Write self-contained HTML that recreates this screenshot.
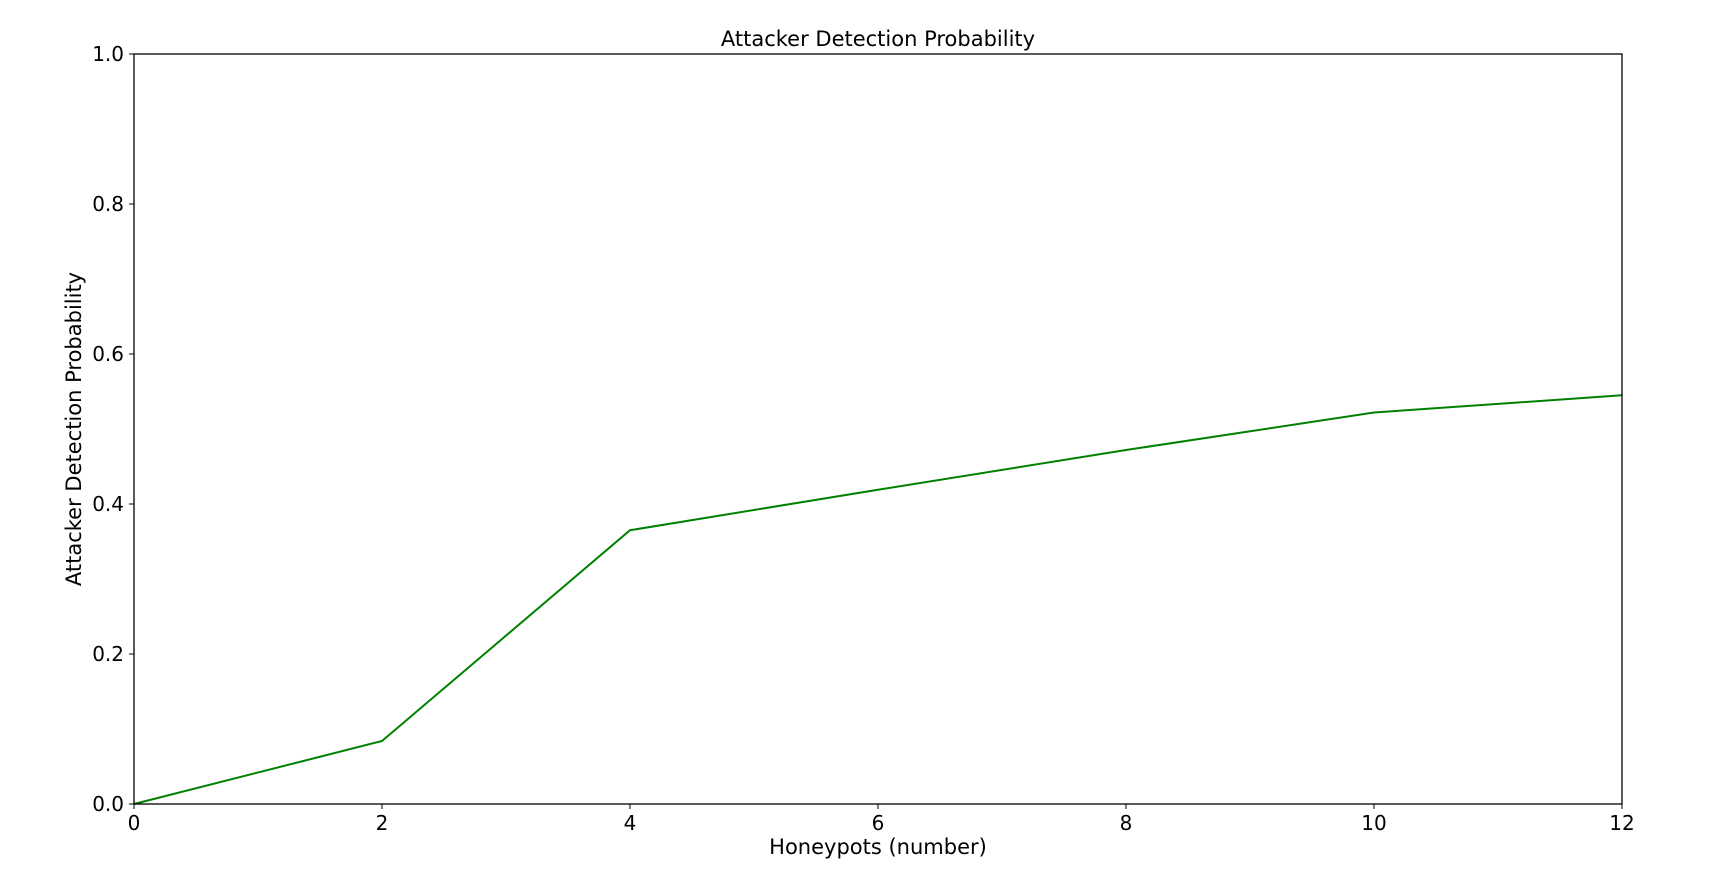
<!DOCTYPE html>
<html><head><meta charset="utf-8"><style>
html,body{margin:0;padding:0;background:#fff;}
svg{display:block;font-family:"DejaVu Sans","Liberation Sans",sans-serif;}
</style></head><body>
<svg id="chart" width="1722" height="878">
<rect width="1722" height="878" fill="#fff"/>
<g id="ticks"></g>
<polyline id="line" fill="none" stroke="#008000" stroke-width="2"/>
<rect x="134" y="54" width="1488" height="750" fill="none" stroke="#000" stroke-width="1.3"/>
<text x="878" y="46" font-size="21" text-anchor="middle">Attacker Detection Probability</text>
<text x="878" y="854" font-size="21" text-anchor="middle">Honeypots (number)</text>
<text transform="translate(81,429) rotate(-90)" font-size="21" text-anchor="middle">Attacker Detection Probability</text>
</svg>
<script>
const xValues=[0,2,4,6,8,10,12];
const yValues=[0,0.084,0.365,0.419,0.472,0.522,0.545];
const xTicks=[0,2,4,6,8,10,12];
const yTicks=[0,0.2,0.4,0.6,0.8,1.0];
const L=134,R=1622,T=54,B=804;
const xs=v=>L+(v-0)/(12-0)*(R-L);
const ys=v=>B-(v-0)/(1-0)*(B-T);
const NS="http://www.w3.org/2000/svg";
const g=document.getElementById('ticks');
xTicks.forEach(t=>{
 const l=document.createElementNS(NS,'line');
 l.setAttribute('x1',xs(t));l.setAttribute('x2',xs(t));l.setAttribute('y1',B);l.setAttribute('y2',B+5);l.setAttribute('stroke','#000');
 
 
 g.appendChild(l);
 const tx=document.createElementNS(NS,'text');
 tx.setAttribute('x',xs(t));tx.setAttribute('y',B+26);tx.setAttribute('font-size','20');tx.setAttribute('text-anchor','middle');
 tx.textContent=String(t);
 
 
 g.appendChild(tx);
});
yTicks.forEach(t=>{
 const l=document.createElementNS(NS,'line');
 l.setAttribute('x1',L-5);l.setAttribute('x2',L);l.setAttribute('y1',ys(t));l.setAttribute('y2',ys(t));l.setAttribute('stroke','#000');
 
 
 g.appendChild(l);
 const tx=document.createElementNS(NS,'text');
 tx.setAttribute('x',L-10);tx.setAttribute('y',ys(t)+7);tx.setAttribute('font-size','20');tx.setAttribute('text-anchor','end');
 tx.textContent=t.toFixed(1);
 
 
 g.appendChild(tx);
});
document.getElementById('line').setAttribute('points',xValues.map((x,i)=>xs(x)+','+ys(yValues[i])).join(' '));
</script>
</body></html>
